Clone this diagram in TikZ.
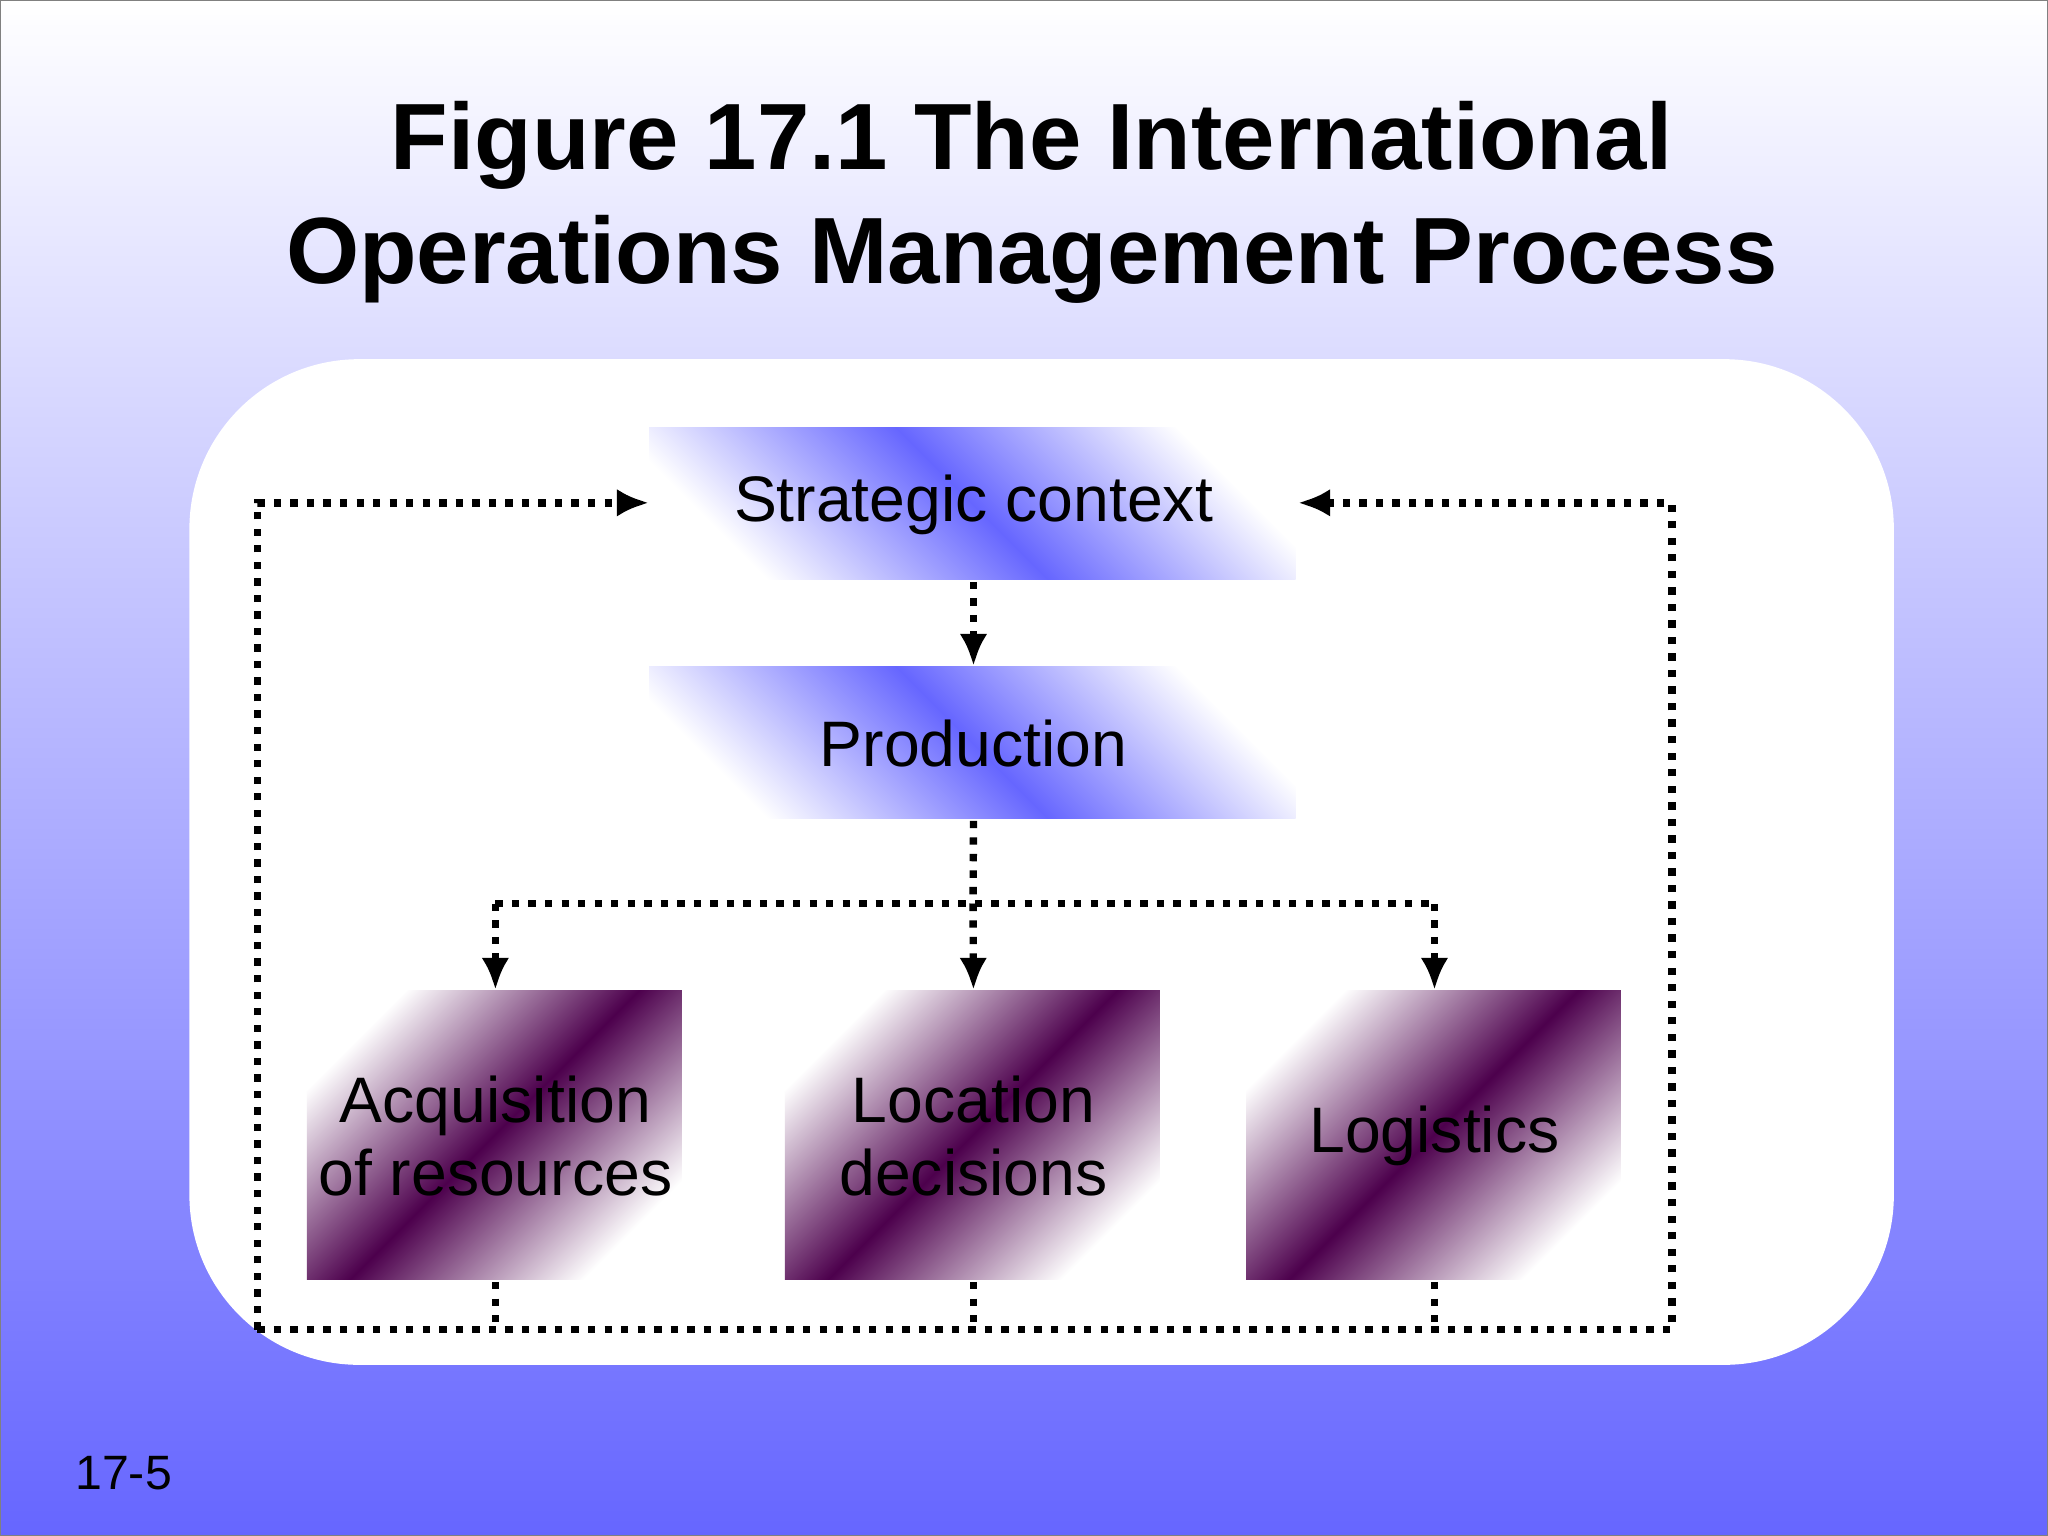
\documentclass[tikz,border=0pt]{standalone}
\usepackage{fontspec}
\setmainfont{Liberation Sans}
\usetikzlibrary{arrows.meta}
\begin{document}
\begin{tikzpicture}[x=0.01cm,y=0.01cm,
 bluebox/.style={minimum width=4.95cm,minimum height=1.17cm,anchor=north west,inner sep=0pt,font=\fontsize{14}{17}\selectfont},
 purbox/.style={minimum width=2.87cm,minimum height=2.22cm,anchor=north west,inner sep=0pt,align=center,font=\fontsize{14}{16}\selectfont},
 bshade/.style={left color=white,right color=white,middle color=blue!60,shading angle=135},
 pshade/.style={left color=white,right color=white,middle color=violet!60!black,shading angle=45},
 dl/.style={line width=1.6pt,dotted},
 da/.style={dl,-{Latex[length=7pt,width=6pt]}}]
\useasboundingbox (0,0) rectangle (1568,1176);
\shade[top color=white,bottom color=blue!60] (0,0) rectangle (1568,1176);
\draw[gray,line width=0.6pt] (0,0) rectangle (1568,1176);
\fill[white,rounded corners=1.3cm] (145,131) rectangle (1450,901);
\shade[bshade] (497,732) rectangle (992,849);
\shade[bshade] (497,549) rectangle (992,666);
\shade[pshade] (235,196) rectangle (522,418);
\shade[pshade] (601,196) rectangle (888,418);
\shade[pshade] (954,196) rectangle (1241,418);
\node[font=\bfseries\fontsize{20.5}{25}\selectfont,align=center] (title) at (790,1021) {Figure 17.1 The International\\Operations Management Process};
\node[anchor=west,inner sep=0pt,font=\fontsize{10.5}{13}\selectfont] (num) at (57,48) {17-5};
\node[bluebox] (sc) at (497,849) {Strategic context};
\node[bluebox] (pr) at (497,666) {Production};
\node[purbox] (acq) at (235,418) {Acquisition\\of resources};
\node[purbox] (loc) at (601,418) {Location\\decisions};
\node[purbox] (log) at (954,418) {Logistics};
\coordinate (J) at (745,484);
\coordinate (B) at (745,158);
\draw[da] (sc.south) -- (pr.north);
\draw[dl] (pr.south) -- (J);
\draw[dl] (acq.north |- J) -- (log.north |- J);
\draw[da] (acq.north |- J) -- (acq.north);
\draw[da] (J) -- (loc.north);
\draw[da] (log.north |- J) -- (log.north);
\draw[dl] (acq.south) -- (acq.south |- B);
\draw[dl] (loc.south) -- (loc.south |- B);
\draw[dl] (log.south) -- (log.south |- B);
\draw[da] (197,158) -- (197,791) -- (sc.west |- 0,791);
\draw[da] (197,158) -- (1280,158) -- (1280,791) -- (sc.east |- 0,791);
\end{tikzpicture}
\end{document}
